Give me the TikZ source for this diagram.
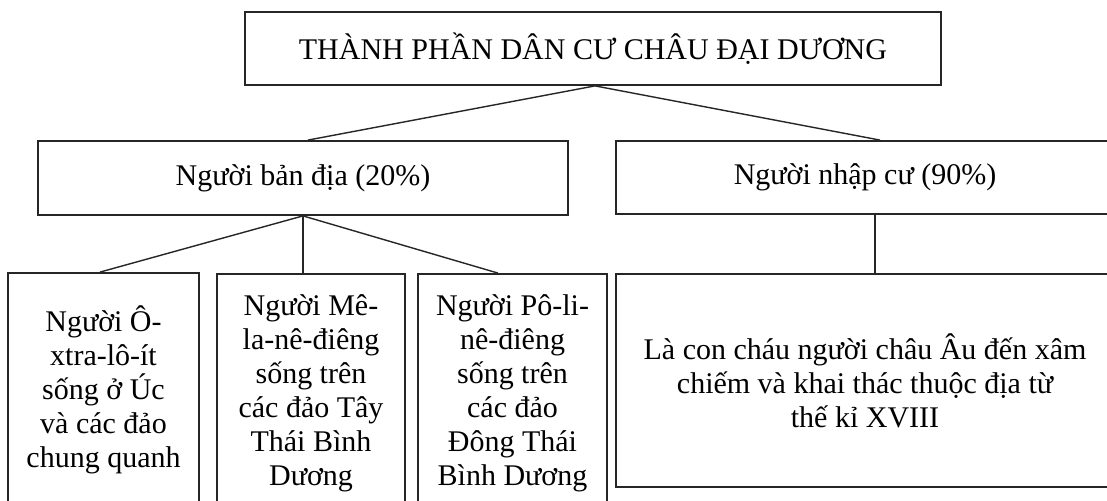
\documentclass[tikz,border=0pt]{standalone}
\usepackage{fontspec}
\setmainfont{Liberation Serif}
\begin{document}
\begin{tikzpicture}[x=0.5pt,y=-0.5pt,
  box/.style={draw=black!85, line width=0.9pt, align=center, inner sep=0pt,
    font=\fontsize{15pt}{17pt}\selectfont},
  link/.style={draw=black!85, line width=0.7pt}]
\clip (0,0) rectangle (1107,501);
\fill[white] (0,0) rectangle (1107,501);
% level 1
\node[box, minimum width=348pt, minimum height=36.5pt] (top) at (593,48.5) {THÀNH PHẦN DÂN CƯ CHÂU ĐẠI DƯƠNG};
% level 2
\node[box, minimum width=265pt, minimum height=37pt] (native) at (303,178) {Người bản địa (20\%)};
\node[box, minimum width=249pt, minimum height=36.5pt] (imm) at (865,177.5) {Người nhập cư (90\%)};
% level 3
\node[box, minimum width=95.5pt, minimum height=117pt] (b1) at (103.5,390) {Người Ô-\\xtra-lô-ít\\sống ở Úc\\và các đảo\\chung quanh};
\node[box, minimum width=94pt, minimum height=119.5pt] (b2) at (311,393.5) {Người Mê-\\la-nê-điêng\\sống trên\\các đảo Tây\\Thái Bình\\Dương};
\node[box, minimum width=94.5pt, minimum height=119.5pt] (b3) at (512.5,393.5) {Người Pô-li-\\nê-điêng\\sống trên\\các đảo\\Đông Thái\\Bình Dương};
\node[box, minimum width=249pt, minimum height=106.5pt] (b4) at (865,380.5) {Là con cháu người châu Âu đến xâm\\chiếm và khai thác thuộc địa từ\\thế kỉ XVIII};
% connectors
\draw[link] ([xshift=1pt]top.south) -- ([xshift=2.5pt]native.north);
\draw[link] ([xshift=1pt]top.south) -- ([xshift=7.5pt]imm.north);
\draw[link] (native.south) -- ([xshift=-1.75pt]b1.north);
\draw[link] (native.south) -- ([xshift=-4pt]b2.north);
\draw[link] (native.south) -- ([xshift=-7.25pt]b3.north);
\draw[link] ([xshift=5pt]imm.south) -- ([xshift=5pt]b4.north);
\end{tikzpicture}
\end{document}
